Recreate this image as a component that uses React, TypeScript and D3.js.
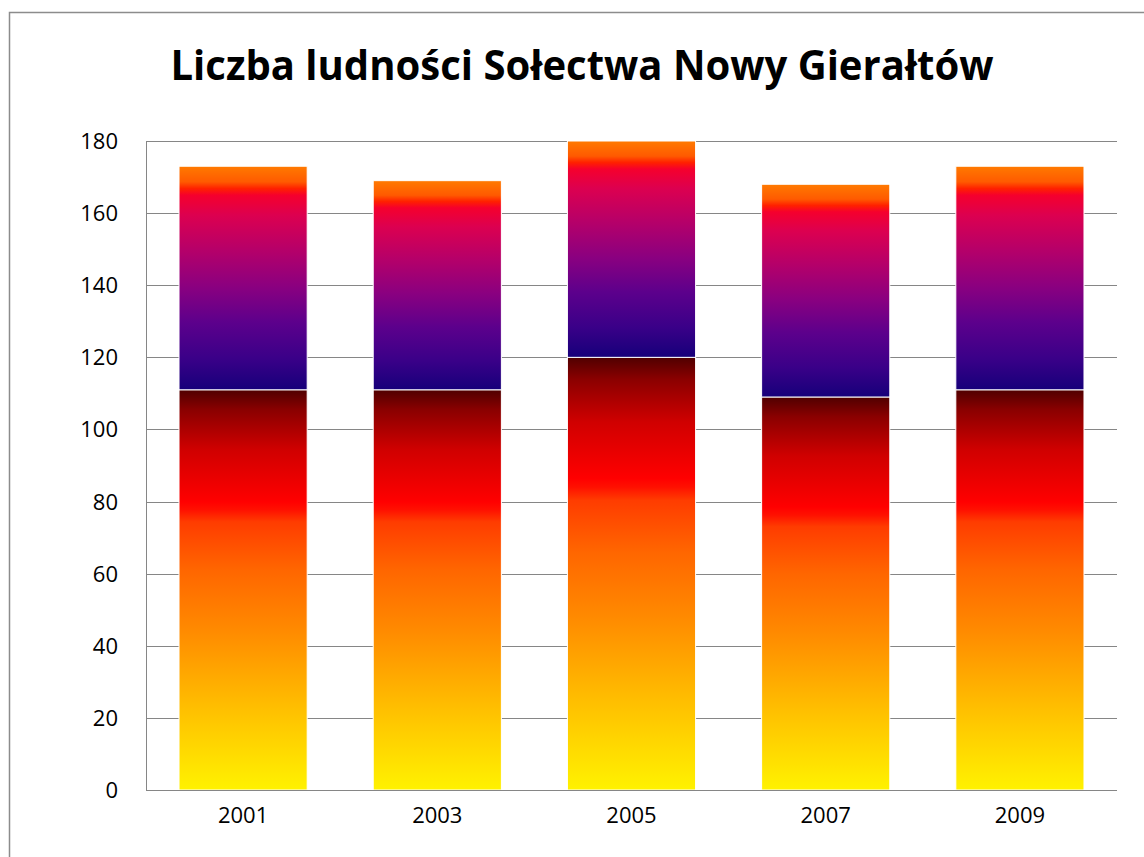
import React, { useEffect, useRef } from 'react';
import * as d3 from 'd3';

// dane z wykresu
const years = ['2001', '2003', '2005', '2007', '2009'];
const lowerValues = [111, 111, 120, 109, 111];
const upperValues = [62, 58, 60, 59, 62];
const yTicks = [0, 20, 40, 60, 80, 100, 120, 140, 160, 180];

// gradienty (offset liczony od dołu słupka)
const fireStops: [number, string][] = [
    [0, '#fff200'], [0.2, '#ffc000'], [0.4, '#ff8a00'], [0.55, '#ff6600'],
    [0.67, '#ff3c00'], [0.7, '#ff1000'], [0.72, '#ff0000'], [0.85, '#d00000'],
    [0.95, '#8a0000'], [1, '#500000'],
];
const sunsetStops: [number, string][] = [
    [0, '#16007a'], [0.14, '#3a0088'], [0.3, '#5c008c'], [0.46, '#8a0080'],
    [0.62, '#b4006a'], [0.78, '#dc0050'], [0.87, '#f5002d'], [0.9, '#ff2000'],
    [0.93, '#ff5a00'], [1, '#ff7a00'],
];

export default function App() {
    const ref = useRef<SVGSVGElement | null>(null);

    useEffect(() => {
        if (!ref.current) return;
        const width = 1144, height = 857;
        const margin = { top: 141, right: 27, bottom: 67, left: 146 };

        const svg = d3.select(ref.current).attr('width', width).attr('height', height);
        svg.selectAll('*').remove();

        const defs = svg.append('defs');
        const addGradient = (id: string, stops: [number, string][]) => {
            const g = defs.append('linearGradient').attr('id', id)
                .attr('x1', 0).attr('y1', 1).attr('x2', 0).attr('y2', 0);
            stops.forEach(([o, c]) => g.append('stop').attr('offset', o).attr('stop-color', c));
        };
        addGradient('fire', fireStops);
        addGradient('sunset', sunsetStops);

        svg.append('rect').attr('width', width).attr('height', height).attr('fill', '#fff');
        // ramka wykresu
        svg.append('rect').attr('x', 9.5).attr('y', 12.5).attr('width', 1200).attr('height', 900)
            .attr('fill', 'none').attr('stroke', '#8c8c8c').attr('stroke-width', 1.5);

        svg.append('text').attr('x', 582).attr('y', 80).attr('text-anchor', 'middle')
            .style('font-family', '"Open Sans", sans-serif').style('font-weight', 'bold')
            .style('font-size', '42px').attr('textLength', 823).attr('lengthAdjust', 'spacingAndGlyphs')
            .text('Liczba ludności Sołectwa Nowy Gierałtów');

        const x = d3.scaleBand().domain(years)
            .range([margin.left, width - margin.right]).paddingInner(0.34).paddingOuter(0.17);
        const y = d3.scaleLinear().domain([0, 180]).range([height - margin.bottom, margin.top]);

        // linie siatki
        svg.append('g').selectAll('line').data(yTicks).join('line')
            .attr('x1', margin.left).attr('x2', width - margin.right)
            .attr('y1', d => Math.round(y(d)) + 0.5).attr('y2', d => Math.round(y(d)) + 0.5)
            .attr('stroke', '#868686').attr('stroke-width', 1);
        svg.append('line').attr('x1', margin.left + 0.5).attr('x2', margin.left + 0.5)
            .attr('y1', y(180)).attr('y2', y(0)).attr('stroke', '#868686');

        svg.append('g').selectAll('text').data(yTicks).join('text')
            .attr('x', 118).attr('y', d => y(d) + 8).attr('text-anchor', 'end')
            .style('font-family', '"Open Sans", sans-serif').style('font-size', '22px')
            .text(d => d);

        svg.append('g').selectAll('text').data(years).join('text')
            .attr('x', d => x(d)! + x.bandwidth() / 2).attr('y', 823).attr('text-anchor', 'middle')
            .style('font-family', '"Open Sans", sans-serif').style('font-size', '22px')
            .text(d => d);

        // słupki
        const bars = svg.append('g');
        years.forEach((yr, i) => {
            const lo = lowerValues[i], hi = upperValues[i];
            bars.append('rect').attr('x', x(yr)!).attr('width', x.bandwidth())
                .attr('y', y(lo)).attr('height', y(0) - y(lo))
                .attr('fill', 'url(#fire)').attr('stroke', '#fff').attr('stroke-width', 1);
            bars.append('rect').attr('x', x(yr)!).attr('width', x.bandwidth())
                .attr('y', y(lo + hi)).attr('height', y(lo) - y(lo + hi))
                .attr('fill', 'url(#sunset)').attr('stroke', '#fff').attr('stroke-width', 1);
        });
        // oś X
        svg.append('line').attr('x1', margin.left).attr('x2', width - margin.right)
            .attr('y1', Math.round(y(0)) + 0.5).attr('y2', Math.round(y(0)) + 0.5)
            .attr('stroke', '#868686');
    }, []);

    return (
        <div style={{ position: 'absolute', left: 0, top: 0 }}>
            <svg ref={ref} style={{ display: 'block' }}></svg>
        </div>
    );
}
